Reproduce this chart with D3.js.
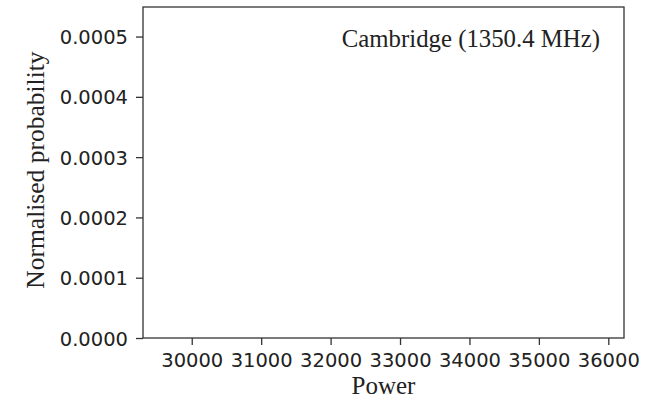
<!DOCTYPE html>
<html><head><meta charset="utf-8">
<script src="https://cdn.jsdelivr.net/npm/d3@7"></script>
<style>
html,body{margin:0;padding:0;background:#fff;}
svg{display:block;}
</style></head>
<body>
<svg id="chart" width="659" height="398"></svg>
<script>
const xTicks = [30000, 31000, 32000, 33000, 34000, 35000, 36000];
const yTicks = [0, 0.0001, 0.0002, 0.0003, 0.0004, 0.0005];
const xDomain = [29298, 36226];
const yDomain = [0, 0.000549];
const xLabel = "Power";
const yLabel = "Normalised probability";
const annotation = "Cambridge (1350.4 MHz)";
const seriesValues = []; // no data drawn in reference

const svg = d3.select("#chart");
const m = {left:143, right:659-624, top:7, bottom:398-338};
const W = 659, H = 398;
const x = d3.scaleLinear().domain(xDomain).range([m.left, W-m.right]);
const y = d3.scaleLinear().domain(yDomain).range([H-m.bottom, m.top]);

const tickFont = "DejaVu Sans, sans-serif";
const serif = "Liberation Serif, Times New Roman, serif";

const xa = svg.append("g").attr("transform",`translate(0,${H-m.bottom})`)
  .call(d3.axisBottom(x).tickValues(xTicks).tickFormat(d3.format("d")).tickSizeOuter(0).tickSize(7).tickPadding(8));
const ya = svg.append("g").attr("transform",`translate(${m.left},0)`)
  .call(d3.axisLeft(y).tickValues(yTicks).tickFormat(d3.format(".4f")).tickSizeOuter(0).tickSize(7).tickPadding(8));
[xa,ya].forEach(a=>{
  a.selectAll("path.domain").remove();
  a.selectAll("line").attr("stroke","#333").attr("stroke-width",1.3);
  a.selectAll("text").attr("font-family",tickFont).attr("font-size",19.5).attr("fill","#222");
});
ya.selectAll("text").attr("dy","0.36em");
xa.selectAll("text").attr("dy","0.72em");

// frame
svg.append("rect").attr("x",x(xDomain[0])).attr("y",y(yDomain[1]))
  .attr("width",x(xDomain[1])-x(xDomain[0])).attr("height",y(yDomain[0])-y(yDomain[1]))
  .attr("fill","none").attr("stroke","#333").attr("stroke-width",1.3);

svg.append("text").attr("x",(x(xDomain[0])+x(xDomain[1]))/2).attr("y",394)
  .attr("text-anchor","middle").attr("font-family",serif).attr("font-size",25).attr("fill","#222").text(xLabel);
svg.append("text").attr("transform",`translate(44,170) rotate(-90)`)
  .attr("text-anchor","middle").attr("font-family",serif).attr("font-size",25.5).attr("fill","#222").text(yLabel);
svg.append("text").attr("x",600).attr("y",47)
  .attr("text-anchor","end").attr("font-family",serif).attr("font-size",24.8).attr("fill","#222").text(annotation);
</script>
</body></html>
